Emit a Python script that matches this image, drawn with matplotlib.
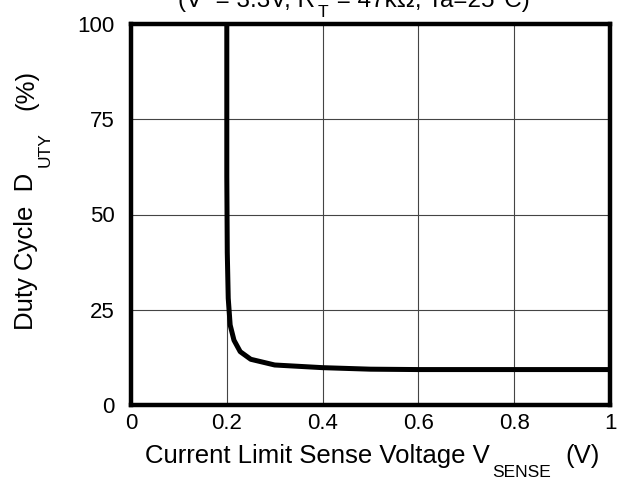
import matplotlib
matplotlib.use('Agg')
import matplotlib.pyplot as plt

# data
v_sense = [0.2, 0.2, 0.201, 0.203, 0.207, 0.215, 0.228, 0.25, 0.3, 0.4, 0.5, 0.6, 0.8, 1.0]
duty = [100, 60, 40, 28, 21, 17, 14, 12, 10.5, 9.8, 9.4, 9.3, 9.3, 9.3]

x_ticks = [0, 0.2, 0.4, 0.6, 0.8, 1]
x_ticklabels = ['0', '0.2', '0.4', '0.6', '0.8', '1']
y_ticks = [0, 25, 50, 75, 100]

plt.rcParams['font.family'] = ['Liberation Sans', 'DejaVu Sans']

W, H = 620, 491
fig = plt.figure(figsize=(6.2, 4.91), dpi=100)
ax = fig.add_axes([131 / W, 1 - 405 / H, 479 / W, 381 / H])

ax.plot(v_sense, duty, color='black', linewidth=3.6, solid_joinstyle='round')

ax.set_xlim(0, 1)
ax.set_ylim(0, 100)
ax.set_xticks(x_ticks)
ax.set_xticklabels(x_ticklabels)
ax.set_yticks(y_ticks)
ax.tick_params(length=0, labelsize=16, colors='black')
ax.tick_params(axis='x', pad=6)
ax.tick_params(axis='y', pad=12)
ax.grid(True, color='#444444', linewidth=0.8)

for s in ax.spines.values():
    s.set_linewidth(3.2)
    s.set_capstyle('projecting')


def put(x, y, s, size, rot=0):
    # x, y in pixels from top-left, anchored at start of baseline
    fig.text(x / W, 1 - y / H, s, fontsize=size, rotation=rot,
             ha='left', va='baseline', rotation_mode='anchor')


# x label, subscript dropped well below like the original
put(145, 463, 'Current Limit Sense Voltage V', 18.5)
put(492, 477, 'SENSE', 12.5)
put(565, 463, '(V)', 18.5)

# y label
put(33, 330, 'Duty Cycle  D', 18.5, 90)
put(50, 167, 'UTY', 12.5, 90)
put(33, 110, '(%)', 18.5, 90)

# title sits partly off the top of the picture, as in the source
put(178, 7, '(V  = 3.3V, R', 17.5)
put(318, 17, 'T', 12.5)
put(330, 7, ' = 47k\u03a9, Ta=25\u00b0C)', 17.5)

fig.savefig('out.png', dpi=100)
